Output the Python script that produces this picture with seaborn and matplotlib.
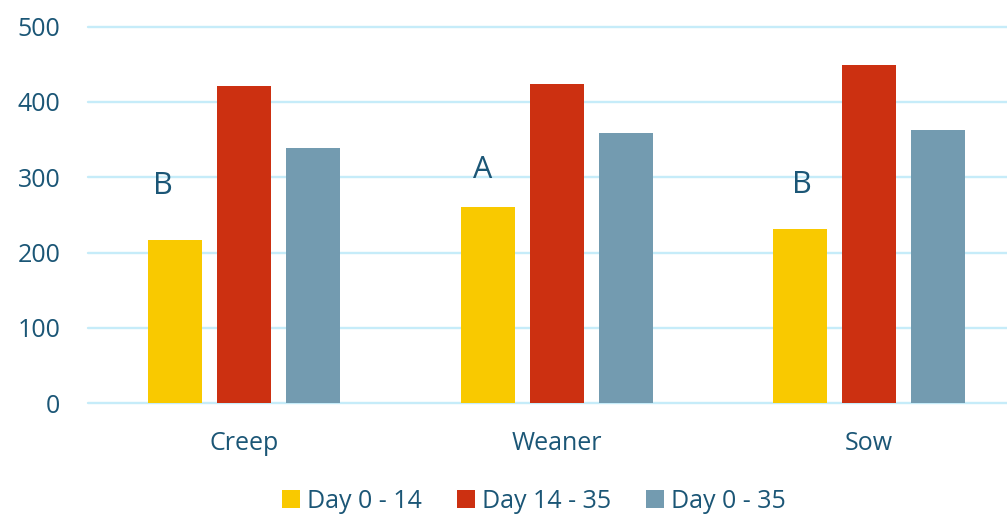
import matplotlib
matplotlib.use("Agg")
import matplotlib.pyplot as plt
import seaborn as sns
import pandas as pd

# Data
categories = ["Creep", "Weaner", "Sow"]
series = ["Day 0 - 14", "Day 14 - 35", "Day 0 - 35"]
day_0_14 = [217, 261, 231]
day_14_35 = [421, 424, 449]
day_0_35 = [339, 359, 362]
letters = ["B", "A", "B"]
letter_y = [289, 310, 290]
y_ticks = [0, 100, 200, 300, 400, 500]

colors = ["#F9C900", "#CC3011", "#739BB0"]
text_color = "#1B5676"
grid_color = "#C6ECF9"

df = pd.DataFrame({
    "category": categories * 3,
    "series": [series[0]] * 3 + [series[1]] * 3 + [series[2]] * 3,
    "value": day_0_14 + day_14_35 + day_0_35,
})

sns.set_theme(style="white")
plt.rcParams["font.family"] = ["Open Sans", "DejaVu Sans"]

fig = plt.figure(figsize=(10.07, 5.16), dpi=100)
ax = fig.add_axes([88 / 1007, 1 - 403.3 / 516, 937.5 / 1007, 376.8 / 516])

sns.barplot(data=df, x="category", y="value", hue="series", order=categories,
            hue_order=series, palette=colors, width=0.663, gap=0.22,
            saturation=1, edgecolor="none", ax=ax, legend=True, zorder=3)

ax.set_xlim(-0.5, 2.5)
ax.set_ylim(0, 500)
ax.set_yticks(y_ticks)
ax.yaxis.grid(True, color=grid_color, linewidth=1.7, zorder=0)
ax.set_axisbelow(True)
for s in ax.spines.values():
    s.set_visible(False)
ax.set_xlabel("")
ax.set_ylabel("")
ax.tick_params(axis="y", length=0, pad=20, labelsize=18, labelcolor=text_color)
ax.tick_params(axis="x", length=0, pad=20, labelsize=18, labelcolor=text_color)
for gl in ax.get_ygridlines():
    gl.set_clip_on(False)

# Significance letters over the first series
letter_dx = [-0.04, -0.015, 0.006]
yellow_bars = ax.containers[0]
for bar, letter, ly, dx in zip(yellow_bars, letters, letter_y, letter_dx):
    cx = bar.get_x() + bar.get_width() / 2 + dx
    ax.text(cx, ly, letter, ha="center", va="center", fontsize=22,
            color=text_color)

handles, labels = ax.get_legend_handles_labels()
ax.get_legend().remove()
fig.legend(handles, labels, loc="center", bbox_to_anchor=(534 / 1007, 1 - 501 / 516),
           ncol=3, frameon=False, fontsize=18, labelcolor=text_color,
           handlelength=0.7, handleheight=0.7, handletextpad=0.3,
           columnspacing=1.4)

fig.savefig("out.png", dpi=100)
